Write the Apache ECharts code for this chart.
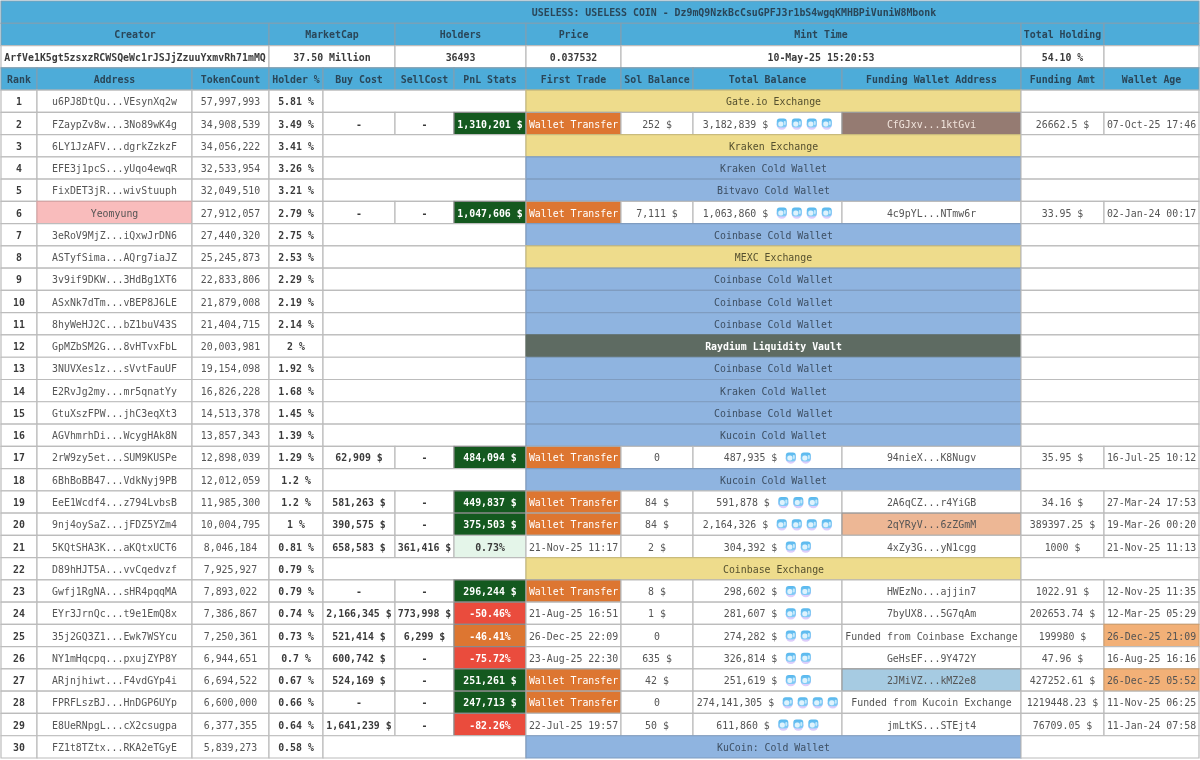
<!DOCTYPE html>
<html>
<head>
<meta charset="utf-8">
<title>USELESS holders</title>
<script src="https://cdn.jsdelivr.net/npm/echarts@6/dist/echarts.min.js"></script>
<style>
  html, body { margin: 0; padding: 0; background: #fff; }
  #main { width: 1200px; height: 760px; }
</style>
</head>
<body>
<div id="main"></div>
<script>
const titleText = "USELESS: USELESS COIN - Dz9mQ9NzkBcCsuGPFJ3r1bS4wgqKMHBPiVuniW8Mbonk";
const statLabels = ["Creator", "MarketCap", "Holders", "Price", "Mint Time", "Total Holding", ""];
const statValues = ["ArfVe1K5gt5zsxzRCWSQeWc1rJSJjZzuuYxmvRh71mMQ", "37.50 Million", "36493", "0.037532", "10-May-25 15:20:53", "54.10 %", ""];
const columnLabels = ["Rank", "Address", "TokenCount", "Holder %", "Buy Cost", "SellCost", "PnL Stats", "First Trade", "Sol Balance", "Total Balance", "Funding Wallet Address", "Funding Amt", "Wallet Age"];

const addresses = ["u6PJ8DtQu...VEsynXq2w", "FZaypZv8w...3No89wK4g", "6LY1JzAFV...dgrkZzkzF", "EFE3j1pcS...yUqo4ewqR", "FixDET3jR...wivStuuph", "Yeomyung", "3eRoV9MjZ...iQxwJrDN6", "ASTyfSima...AQrg7iaJZ", "3v9if9DKW...3HdBg1XT6", "ASxNk7dTm...vBEP8J6LE", "8hyWeHJ2C...bZ1buV43S", "GpMZbSM2G...8vHTvxFbL", "3NUVXes1z...sVvtFauUF", "E2RvJg2my...mr5qnatYy", "GtuXszFPW...jhC3eqXt3", "AGVhmrhDi...WcygHAk8N", "2rW9zy5et...SUM9KUSPe", "6BhBoBB47...VdkNyj9PB", "EeE1Wcdf4...z794LvbsB", "9nj4oySaZ...jFDZ5YZm4", "5KQtSHA3K...aKQtxUCT6", "D89hHJT5A...vvCqedvzf", "Gwfj1RgNA...sHR4pqqMA", "EYr3JrnQc...t9e1EmQ8x", "35j2GQ3Z1...Ewk7WSYcu", "NY1mHqcpq...pxujZYP8Y", "ARjnjhiwt...F4vdGYp4i", "FPRFLszBJ...HnDGP6UYp", "E8UeRNpgL...cX2csugpa", "FZ1t8TZtx...RKA2eTGyE"];
const tokenCounts = ["57,997,993", "34,908,539", "34,056,222", "32,533,954", "32,049,510", "27,912,057", "27,440,320", "25,245,873", "22,833,806", "21,879,008", "21,404,715", "20,003,981", "19,154,098", "16,826,228", "14,513,378", "13,857,343", "12,898,039", "12,012,059", "11,985,300", "10,004,795", "8,046,184", "7,925,927", "7,893,022", "7,386,867", "7,250,361", "6,944,651", "6,694,522", "6,600,000", "6,377,355", "5,839,273"];
const holderPct = ["5.81", "3.49", "3.41", "3.26", "3.21", "2.79", "2.75", "2.53", "2.29", "2.19", "2.14", "2", "1.92", "1.68", "1.45", "1.39", "1.29", "1.2", "1.2", "1", "0.81", "0.79", "0.79", "0.74", "0.73", "0.7", "0.67", "0.66", "0.64", "0.58"];
// null = wallet has trade stats instead of a label
const walletLabels = ["Gate.io Exchange", null, "Kraken Exchange", "Kraken Cold Wallet", "Bitvavo Cold Wallet", null, "Coinbase Cold Wallet", "MEXC Exchange", "Coinbase Cold Wallet", "Coinbase Cold Wallet", "Coinbase Cold Wallet", "Raydium Liquidity Vault", "Coinbase Cold Wallet", "Kraken Cold Wallet", "Coinbase Cold Wallet", "Kucoin Cold Wallet", null, "Kucoin Cold Wallet", null, null, null, "Coinbase Exchange", null, null, null, null, null, null, null, "KuCoin: Cold Wallet"];

// the arrays below follow tradedRanks
const tradedRanks = [2, 6, 17, 19, 20, 21, 23, 24, 25, 26, 27, 28, 29];
const buyCosts = ["-", "-", "62,909 $", "581,263 $", "390,575 $", "658,583 $", "-", "2,166,345 $", "521,414 $", "600,742 $", "524,169 $", "-", "1,641,239 $"];
const sellCosts = ["-", "-", "-", "-", "-", "361,416 $", "-", "773,998 $", "6,299 $", "-", "-", "-", "-"];
const pnlStats = ["1,310,201 $", "1,047,606 $", "484,094 $", "449,837 $", "375,503 $", "0.73%", "296,244 $", "-50.46%", "-46.41%", "-75.72%", "251,261 $", "247,713 $", "-82.26%"];
const firstTrades = ["Wallet Transfer", "Wallet Transfer", "Wallet Transfer", "Wallet Transfer", "Wallet Transfer", "21-Nov-25 11:17", "Wallet Transfer", "21-Aug-25 16:51", "26-Dec-25 22:09", "23-Aug-25 22:30", "Wallet Transfer", "Wallet Transfer", "22-Jul-25 19:57"];
const solBalances = ["252 $", "7,111 $", "0", "84 $", "84 $", "2 $", "8 $", "1 $", "0", "635 $", "42 $", "0", "50 $"];
const totalBalances = ["3,182,839 $", "1,063,860 $", "487,935 $", "591,878 $", "2,164,326 $", "304,392 $", "298,602 $", "281,607 $", "274,282 $", "326,814 $", "251,619 $", "274,141,305 $", "611,860 $"];
const whaleCounts = [4, 4, 2, 3, 4, 2, 2, 2, 2, 2, 2, 4, 3];
const fundingWallets = ["CfGJxv...1ktGvi", "4c9pYL...NTmw6r", "94nieX...K8Nugv", "2A6qCZ...r4YiGB", "2qYRyV...6zZGmM", "4xZy3G...yN1cgg", "HWEzNo...ajjin7", "7byUX8...5G7qAm", "Funded from Coinbase Exchange", "GeHsEF...9Y472Y", "2JMiVZ...kMZ2e8", "Funded from Kucoin Exchange", "jmLtKS...STEjt4"];
const fundingAmts = ["26662.5 $", "33.95 $", "35.95 $", "34.16 $", "389397.25 $", "1000 $", "1022.91 $", "202653.74 $", "199980 $", "47.96 $", "427252.61 $", "1219448.23 $", "76709.05 $"];
const walletAges = ["07-Oct-25 17:46", "02-Jan-24 00:17", "16-Jul-25 10:12", "27-Mar-24 17:53", "19-Mar-26 00:20", "21-Nov-25 11:13", "12-Nov-25 11:35", "12-Mar-25 05:29", "26-Dec-25 21:09", "16-Aug-25 16:16", "26-Dec-25 05:52", "11-Nov-25 06:25", "11-Jan-24 07:58"];

// layout, x axis runs in page pixels
const colEdges = [1, 37, 192, 269, 323, 395, 454, 526, 621, 693, 842, 1021, 1104, 1199];
const rowNames = ["title", "statLabels", "statValues", "columns"].concat(addresses);

const colors = {
  head: "#4dacd9", headLine: "#7f9fb3", headText: "#2a4658",
  line: "#bcbcbc", text: "#555", bold: "#3a3a3a",
  yellow: "#eedc8c", blue: "#8fb4e0", vault: "#5e6b62", labelText: "#3d4f63", yellowText: "#55502f",
  green: "#14591f", paleGreen: "#e4f5e9", red: "#ea4c3d", orange: "#dd7631",
  pink: "#f9bcbc", brown: "#957b72", salmon: "#edb795", skyblue: "#a6cbe2", ageOrange: "#f2b077"
};
const FONT = '"DejaVu Sans Mono", "Liberation Mono", monospace';
const CHAR_W = 5.96;

const cells = [];
function addCell(from, to, row, text, opts) {
  cells.push(Object.assign({ from, to, row, text, fill: "#fff", line: colors.line, color: colors.text, weight: "normal" }, opts));
}

const headOpts = { fill: colors.head, line: colors.headLine, color: colors.headText, weight: "bold" };
addCell(0, 13, 0, "", headOpts);
addCell(3, 13, 0, titleText, Object.assign({}, headOpts, { fill: null, line: null }));

const statSpans = [[0, 3], [3, 5], [5, 7], [7, 8], [8, 11], [11, 12], [12, 13]];
statSpans.forEach((s, i) => {
  addCell(s[0], s[1], 1, statLabels[i], headOpts);
  addCell(s[0], s[1], 2, statValues[i], { color: colors.bold, weight: "bold" });
});
columnLabels.forEach((t, i) => addCell(i, i + 1, 3, t, headOpts));

function labelOpts(label) {
  if (label.indexOf("Raydium") >= 0) return { fill: colors.vault, line: colors.vault, color: "#fff", weight: "bold" };
  if (label.indexOf("Exchange") >= 0) return { fill: colors.yellow, line: "#c9bb7c", color: colors.yellowText };
  return { fill: colors.blue, line: "#7f9cc0", color: colors.labelText };
}
function pnlOpts(v) {
  const white = { color: "#fff", weight: "bold", line: "#8a8a8a" };
  if (v.indexOf("$") >= 0) return Object.assign({ fill: colors.green }, white);
  const pct = parseFloat(v);
  if (pct > 0) return { fill: colors.paleGreen, color: colors.bold, weight: "bold" };
  return Object.assign({ fill: pct > -50 ? colors.orange : colors.red }, white);
}
const fundingFills = { 2: [colors.brown, "#f1e4dc"], 20: [colors.salmon, colors.text], 27: [colors.skyblue, colors.text] };
const ageFills = { 25: colors.ageOrange, 27: colors.ageOrange };

addresses.forEach((addr, i) => {
  const rank = i + 1;
  const row = i + 4;
  addCell(0, 1, row, String(rank), { color: colors.bold, weight: "bold" });
  addCell(1, 2, row, addr, addr.indexOf("...") < 0 ? { fill: colors.pink, line: "#d8a5a5" } : {});
  addCell(2, 3, row, tokenCounts[i]);
  addCell(3, 4, row, holderPct[i] + " %", { color: colors.bold, weight: "bold" });

  const t = tradedRanks.indexOf(rank);
  if (t < 0) {
    addCell(4, 7, row, "");
    addCell(7, 11, row, walletLabels[i], labelOpts(walletLabels[i]));
    addCell(11, 13, row, "");
    return;
  }
  addCell(4, 5, row, buyCosts[t], { color: colors.bold, weight: "bold" });
  addCell(5, 6, row, sellCosts[t], { color: colors.bold, weight: "bold" });
  addCell(6, 7, row, pnlStats[t], pnlOpts(pnlStats[t]));
  addCell(7, 8, row, firstTrades[t], firstTrades[t] === "Wallet Transfer" ? { fill: colors.orange, line: "#a8a8a8", color: "#fff" } : {});
  addCell(8, 9, row, solBalances[t]);
  addCell(9, 10, row, totalBalances[t], { whales: whaleCounts[t] });
  const ff = fundingFills[rank];
  addCell(10, 11, row, fundingWallets[t], ff ? { fill: ff[0], line: "#9a9a9a", color: ff[1] } : {});
  addCell(11, 12, row, fundingAmts[t]);
  addCell(12, 13, row, walletAges[t], ageFills[rank] ? { fill: ageFills[rank], line: "#d0a070" } : {});
});

function whaleIcon(x, y) {
  return [
    { type: "circle", shape: { cx: x + 5.5, cy: y + 1, r: 5.2 }, style: { fill: "#dccdfb" } },
    { type: "rect", shape: { x: x + 0.5, y: y - 5, width: 10, height: 9, r: 3 },
      style: { fill: new echarts.graphic.LinearGradient(0, 0, 0, 1, [
        { offset: 0, color: "#58b8ee" }, { offset: 1, color: "#86cdf6" }
      ]) } },
    { type: "rect", shape: { x: x + 2, y: y - 2, width: 5, height: 5, r: 2 }, style: { fill: "#dff3fd" } },
    { type: "rect", shape: { x: x + 7.5, y: y - 2.5, width: 2, height: 4, r: 1 }, style: { fill: "#c5e9fb" } }
  ];
}

function renderCell(params, api) {
  const c = cells[params.dataIndex];
  const start = api.coord([api.value(0), api.value(2)]);
  const end = api.coord([api.value(1), api.value(2)]);
  const h = api.size([0, 1])[1];
  const x = start[0], w = end[0] - start[0], y = start[1] - h / 2;
  const children = [];
  if (c.fill) {
    children.push({ type: "rect", shape: { x: x, y: y, width: w, height: h }, style: { fill: c.fill, stroke: c.line, lineWidth: 1.2 } });
  }
  const cy = start[1] + 1.5;
  let tx = x + w / 2;
  if (c.whales) {
    const textW = c.text.length * CHAR_W;
    const totalW = textW + 8 + c.whales * 15 - 4;
    tx = x + w / 2 - totalW / 2 + textW / 2;
    for (let k = 0; k < c.whales; k++) {
      children.push.apply(children, whaleIcon(x + w / 2 - totalW / 2 + textW + 8 + k * 15, start[1]));
    }
  }
  if (c.text) {
    children.push({ type: "text", style: { text: c.text, x: tx, y: cy, align: "center", verticalAlign: "middle", fill: c.color, fontFamily: FONT, fontSize: 9.9, fontWeight: c.weight } });
  }
  return { type: "group", children: children };
}

const chart = echarts.init(document.getElementById("main"));
chart.setOption({
  animation: false,
  backgroundColor: "#fff",
  tooltip: { show: false },
  grid: { left: 0, top: 1, width: 1200, height: 757 },
  xAxis: { type: "value", min: 0, max: 1200, show: false },
  yAxis: { type: "category", data: rowNames, inverse: true, show: false },
  series: [{
    type: "custom",
    coordinateSystem: "cartesian2d",
    clip: false,
    silent: true,
    renderItem: renderCell,
    encode: { x: [0, 1], y: 2 },
    data: cells.map(c => [colEdges[c.from], colEdges[c.to], c.row])
  }]
});
</script>
</body>
</html>
